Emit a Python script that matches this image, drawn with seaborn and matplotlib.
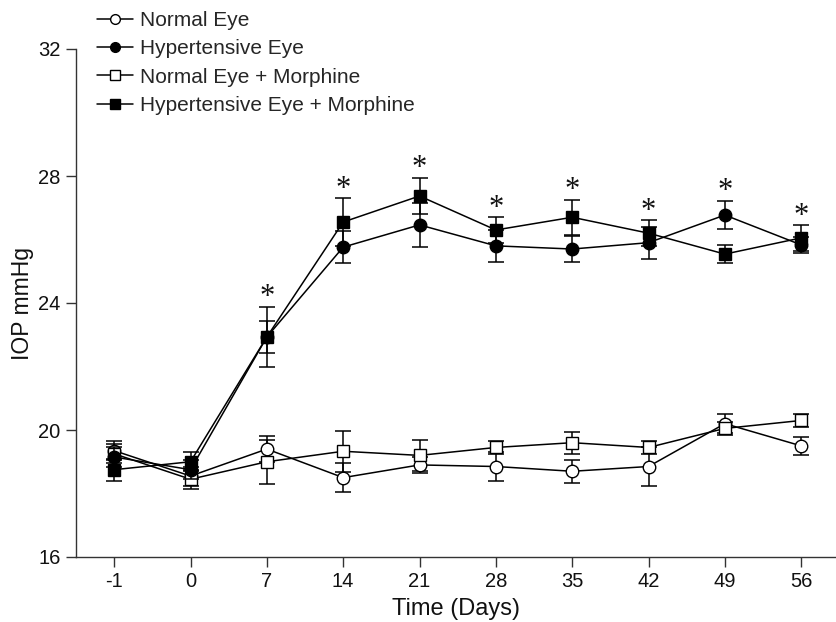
import numpy as np
import pandas as pd
import matplotlib
matplotlib.use("Agg")
import matplotlib.pyplot as plt
import seaborn as sns
from matplotlib.lines import Line2D

days = ["-1", "0", "7", "14", "21", "28", "35", "42", "49", "56"]

normal_eye = [19.35, 18.55, 19.4, 18.5, 18.9, 18.85, 18.7, 18.85, 20.2, 19.5]
normal_eye_err = [0.3, 0.3, 0.4, 0.45, 0.25, 0.45, 0.37, 0.6, 0.3, 0.28]

hyper_eye = [19.15, 18.75, 22.93, 25.76, 26.46, 25.8, 25.7, 25.9, 26.77, 25.83]
hyper_eye_err = [0.3, 0.3, 0.5, 0.5, 0.7, 0.5, 0.4, 0.5, 0.45, 0.25]

normal_morph = [19.25, 18.45, 19.0, 19.33, 19.2, 19.45, 19.6, 19.45, 20.05, 20.3]
normal_morph_err = [0.3, 0.3, 0.7, 0.65, 0.5, 0.2, 0.35, 0.2, 0.2, 0.2]

hyper_morph = [18.75, 19.0, 22.93, 26.55, 27.37, 26.3, 26.7, 26.2, 25.54, 26.05]
hyper_morph_err = [0.35, 0.3, 0.95, 0.75, 0.57, 0.4, 0.55, 0.4, 0.28, 0.4]

series_names = ["Normal Eye", "Hypertensive Eye", "Normal Eye + Morphine",
                "Hypertensive Eye + Morphine"]
sig_days = ["7", "14", "21", "28", "35", "42", "49", "56"]

means = [normal_eye, hyper_eye, normal_morph, hyper_morph]
errs = [normal_eye_err, hyper_eye_err, normal_morph_err, hyper_morph_err]

pos = np.arange(len(days))
rows = []
for name, m, e in zip(series_names, means, errs):
    for p, d, mv, ev in zip(pos, days, m, e):
        rows.append({"series": name, "pos": p, "day": d, "IOP": mv, "err": ev})
df = pd.DataFrame(rows)

sns.set_style("ticks")
plt.rcParams["font.family"] = ["Liberation Sans", "DejaVu Sans"]

fig = plt.figure(figsize=(8.36, 6.22), dpi=100)
ax = fig.add_axes([76 / 836, 1 - 557 / 622, 1 - 76 / 836 - 0.001, (557 - 49) / 622])

styles = {
    "Normal Eye": dict(marker="o", mfc="white", z=3),
    "Hypertensive Eye": dict(marker="o", mfc="black", z=4),
    "Normal Eye + Morphine": dict(marker="s", mfc="white", z=3),
    "Hypertensive Eye + Morphine": dict(marker="s", mfc="black", z=5),
}

for name in series_names:
    sub = df[df["series"] == name]
    st = styles[name]
    ax.errorbar(sub["pos"], sub["IOP"], yerr=sub["err"], fmt="none",
                ecolor="black", elinewidth=1.1, capsize=6, capthick=1.1,
                zorder=st["z"] - 0.5)
    sns.lineplot(data=sub, x="pos", y="IOP", ax=ax, color="black",
                 linewidth=1.1, marker=st["marker"],
                 markersize=9 if st["marker"] == "o" else 8,
                 markerfacecolor=st["mfc"], markeredgecolor="black",
                 markeredgewidth=1.0, errorbar=None, zorder=st["z"], legend=False)

# significance asterisks above the highest error bar
for d in sig_days:
    i = days.index(d)
    top = max(hyper_eye[i] + hyper_eye_err[i], hyper_morph[i] + hyper_morph_err[i])
    ax.text(pos[i], top + 0.05, "*", ha="center", va="baseline",
            fontsize=22, family=["Liberation Serif", "DejaVu Serif"], color="#111111")

ax.set_ylim(16, 32)
ax.set_yticks([16, 20, 24, 28, 32])
ax.set_xlim(-0.5, 9.445)
ax.set_xticks(pos)
ax.set_xticklabels(days)
ax.tick_params(axis="both", labelsize=14.5, length=7, width=1.0, color="#333333",
               labelcolor="#111111", pad=4)
for s in ["top", "right"]:
    ax.spines[s].set_visible(False)
for s in ["left", "bottom"]:
    ax.spines[s].set_linewidth(1.0)
    ax.spines[s].set_color("#333333")
ax.set_xlabel("Time (Days)", fontsize=17, labelpad=5, color="#111111")
ax.set_ylabel("IOP mmHg", fontsize=16.5, labelpad=3, color="#111111")

handles = []
for name in series_names:
    st = styles[name]
    handles.append(Line2D([0], [0], color="black", linewidth=1.1,
                          marker=st["marker"], markersize=7,
                          markerfacecolor=st["mfc"], markeredgecolor="black"))
fig.legend(handles, series_names, loc="upper left",
           bbox_to_anchor=(97 / 836, 1 - 11 / 622), frameon=False,
           fontsize=15, handlelength=1.75, handletextpad=0.3,
           labelspacing=0.45, borderpad=0.0, borderaxespad=0.0)

fig.savefig("out.png", dpi=100)
